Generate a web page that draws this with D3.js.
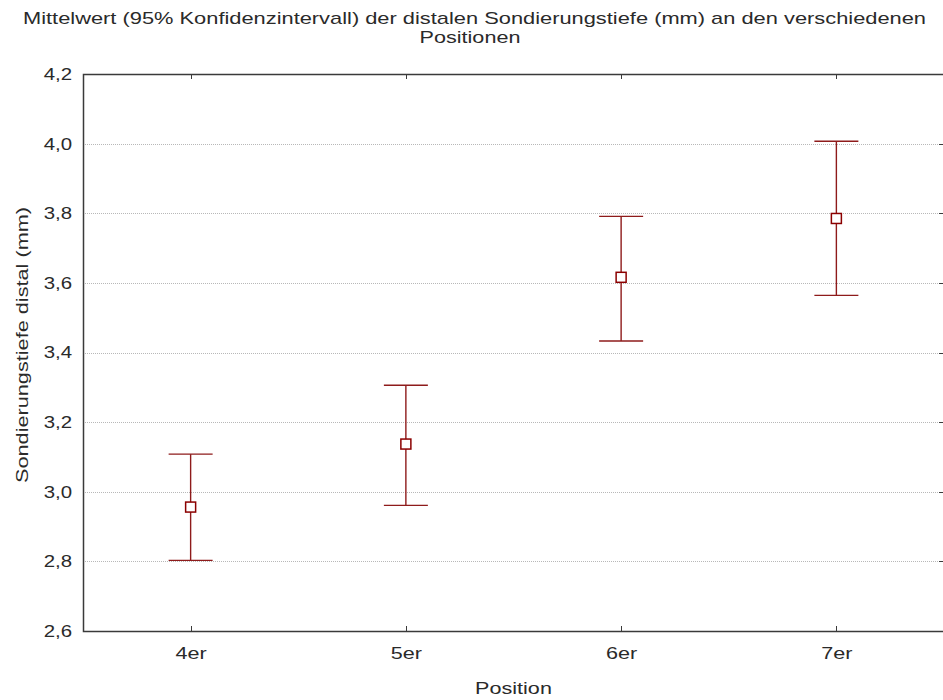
<!DOCTYPE html>
<html>
<head>
<meta charset="utf-8">
<script src="https://cdn.jsdelivr.net/npm/d3@7"></script>
<style>
  html, body { margin: 0; padding: 0; background: #fff; }
  svg text { font-family: 'Liberation Sans', Arial, sans-serif; fill: #2a2a2a; }
</style>
</head>
<body>
<svg id="chart" width="943" height="700"></svg>
<script>
const positions = ['4er', '5er', '6er', '7er']
const means = [2.956, 3.137, 3.616, 3.785]
const lower = [2.803, 2.961, 3.433, 3.564]
const upper = [3.108, 3.306, 3.791, 4.007]
const yTicks = [2.6, 2.8, 3.0, 3.2, 3.4, 3.6, 3.8, 4.0, 4.2]

const width = 943
const height = 700
const margin = { top: 74, right: -1, bottom: 69, left: 83 }
const plotW = width - margin.left - margin.right
const plotH = height - margin.top - margin.bottom

const red = '#8E1B1B'
const fontFam = "'Liberation Sans', Arial, sans-serif"

const svg = d3.select('#chart')

const x = d3.scalePoint()
  .domain(positions)
  .range([margin.left, margin.left + plotW])
  .padding(0.5)

const y = d3.scaleLinear()
  .domain([2.6, 4.2])
  .range([margin.top + plotH, margin.top])

const fmt = d => d3.format('.1f')(d).replace('.', ',')

// the original font is wider than Liberation Sans, stretch glyphs a bit
function stretch(sel, k) {
  sel.each(function () {
    const w = this.getComputedTextLength()
    d3.select(this).attr('textLength', w * k).attr('lengthAdjust', 'spacingAndGlyphs')
  })
}

// Gridlines (dotted)
svg.append('g')
  .selectAll('line')
  .data(yTicks.filter(t => t > 2.6 && t < 4.2))
  .join('line')
  .attr('x1', margin.left)
  .attr('x2', margin.left + plotW)
  .attr('y1', d => Math.round(y(d)) + 0.5)
  .attr('y2', d => Math.round(y(d)) + 0.5)
  .attr('stroke', '#b8b8b8')
  .attr('stroke-dasharray', '1,1')

// Frame
svg.append('rect')
  .attr('x', margin.left + 0.5)
  .attr('y', margin.top + 0.5)
  .attr('width', plotW)
  .attr('height', plotH)
  .attr('fill', 'none')
  .attr('stroke', '#3a3a3a')
  .attr('stroke-width', 1.5)

// Y axis labels
svg.append('g')
  .attr('transform', `translate(${margin.left},0)`)
  .call(d3.axisLeft(y).tickValues(yTicks).tickFormat(fmt).tickSize(0).tickPadding(11))
  .call(g => g.select('.domain').remove())
  .call(g => g.selectAll('text').attr('font-size', 17).attr('fill', '#2a2a2a').attr('font-family', fontFam).call(stretch, 1.2))

// Right-side inward ticks
svg.append('g')
  .selectAll('line')
  .data(yTicks.filter(t => t > 2.6 && t < 4.2))
  .join('line')
  .attr('x1', margin.left + plotW - 5)
  .attr('x2', margin.left + plotW)
  .attr('y1', d => Math.round(y(d)) + 0.5)
  .attr('y2', d => Math.round(y(d)) + 0.5)
  .attr('stroke', '#3a3a3a')

// X axis labels + inward ticks on bottom and top
svg.append('g')
  .attr('transform', `translate(0,${margin.top + plotH})`)
  .call(d3.axisBottom(x).tickSize(0).tickPadding(16))
  .call(g => g.select('.domain').remove())
  .call(g => g.selectAll('text').attr('font-size', 17).attr('fill', '#2a2a2a').attr('font-family', fontFam).call(stretch, 1.27))

svg.append('g')
  .selectAll('line.bt')
  .data(positions)
  .join('line')
  .attr('x1', d => Math.round(x(d)) + 0.5)
  .attr('x2', d => Math.round(x(d)) + 0.5)
  .attr('y1', margin.top + plotH)
  .attr('y2', margin.top + plotH - 5)
  .attr('stroke', '#3a3a3a')

svg.append('g')
  .selectAll('line.tt')
  .data(positions)
  .join('line')
  .attr('x1', d => Math.round(x(d)) + 0.5)
  .attr('x2', d => Math.round(x(d)) + 0.5)
  .attr('y1', margin.top)
  .attr('y2', margin.top + 5)
  .attr('stroke', '#3a3a3a')

// Error bars
const capW = 22
const bars = svg.append('g')
  .selectAll('g')
  .data(positions.map((p, i) => ({ p, m: means[i], lo: lower[i], hi: upper[i] })))
  .join('g')

bars.append('line')
  .attr('x1', d => x(d.p))
  .attr('x2', d => x(d.p))
  .attr('y1', d => y(d.lo))
  .attr('y2', d => y(d.hi))
  .attr('stroke', red)
  .attr('stroke-width', 1.4)

bars.append('line')
  .attr('x1', d => x(d.p) - capW)
  .attr('x2', d => x(d.p) + capW)
  .attr('y1', d => y(d.hi))
  .attr('y2', d => y(d.hi))
  .attr('stroke', red)
  .attr('stroke-width', 1.4)

bars.append('line')
  .attr('x1', d => x(d.p) - capW)
  .attr('x2', d => x(d.p) + capW)
  .attr('y1', d => y(d.lo))
  .attr('y2', d => y(d.lo))
  .attr('stroke', red)
  .attr('stroke-width', 1.4)

// Mean markers
bars.append('rect')
  .attr('x', d => x(d.p) - 5)
  .attr('y', d => y(d.m) - 5)
  .attr('width', 10)
  .attr('height', 10)
  .attr('fill', '#fff')
  .attr('stroke', '#8B0000')
  .attr('stroke-width', 1.5)

// Title
svg.append('text')
  .attr('x', 474.5)
  .attr('y', 24)
  .attr('text-anchor', 'middle')
  .attr('font-size', 17)
  .attr('textLength', 903)
  .attr('lengthAdjust', 'spacingAndGlyphs')
  .text('Mittelwert (95% Konfidenzintervall) der distalen Sondierungstiefe (mm) an den verschiedenen')

svg.append('text')
  .attr('x', 470)
  .attr('y', 43)
  .attr('text-anchor', 'middle')
  .attr('font-size', 17)
  .text('Positionen')
  .call(stretch, 1.27)

// Axis titles
svg.append('text')
  .attr('x', margin.left + plotW / 2)
  .attr('y', 694)
  .attr('text-anchor', 'middle')
  .attr('font-size', 17)
  .text('Position')
  .call(stretch, 1.27)

svg.append('text')
  .attr('transform', `translate(28,345) rotate(-90)`)
  .attr('text-anchor', 'middle')
  .attr('font-size', 17)
  .attr('textLength', 276)
  .attr('lengthAdjust', 'spacingAndGlyphs')
  .text('Sondierungstiefe distal (mm)')
</script>
</body>
</html>
